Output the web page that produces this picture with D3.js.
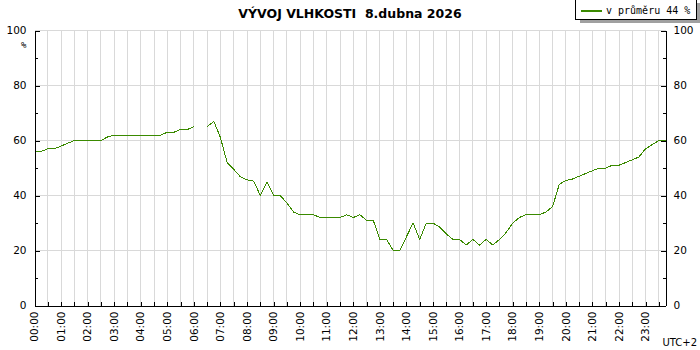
<!DOCTYPE html>
<html>
  <head>
    <meta charset="utf-8">
    <title>Vývoj vlhkosti</title>
    <script src="https://d3js.org/d3.v7.min.js"></script>
    <style>
      body { margin: 0; background: #fff; }
      svg text { font-family: "DejaVu Sans", sans-serif; fill: #000; }
    </style>
  </head>
  <body>
    <script>
      var width = 700;
      var height = 350;
      var margin = {top: 30.5, left: 34.5, right: 34.5, bottom: 44.5};

      var title = "VÝVOJ VLHKOSTI  8.dubna 2026";
      var legendLabel = "v průměru 44 %";
      var unitLabel = "%";
      var zoneLabel = "UTC+2";

      // one reading every 15 minutes from 00:00 to 23:45, null = missing
      var stepMinutes = 15;
      var humidity = [
        56, 56, 57, 57, 58, 59, 60, 60, 60, 60, 60, 61.3,
        62, 62, 62, 62, 62, 62, 62, 62, 63, 63, 64, 64,
        65, null, 65, 67, 61, 52, 49.5, 46.8, 45.7, 45.2, 40, 45,
        40, 40, 37.3, 34, 33, 33, 33, 32, 32, 32, 32, 33,
        32, 33, 31, 31, 24, 24, 20, 20, 25, 30, 24, 30,
        30, 28.5, 26, 24, 24, 22, 24, 22, 24, 22, 24, 26.5,
        30, 32, 33, 33, 33, 34, 36, 44, 45.5, 46, 47, 48,
        49, 50, 50, 51, 51, 52, 53, 54, 57, 58.5, 60, 60
      ];

      var hourLabels = ["00:00","01:00","02:00","03:00","04:00","05:00","06:00","07:00",
        "08:00","09:00","10:00","11:00","12:00","13:00","14:00","15:00",
        "16:00","17:00","18:00","19:00","20:00","21:00","22:00","23:00"];
      var yTicks = [0, 20, 40, 60, 80, 100];
      var yMinorTicks = [10, 30, 50, 70, 90];

      var data = humidity.map(function(v, i) { return {t: i * stepMinutes, v: v}; });
      var lastMinute = (humidity.length - 1) * stepMinutes;

      var svg = d3.select("body")
        .append("svg")
        .attr("width", width)
        .attr("height", height);

      var xScale = d3.scaleLinear()
        .domain([0, lastMinute])
        .range([margin.left, width - margin.right]);

      var yScale = d3.scaleLinear()
        .domain([0, 100])
        .range([height - margin.bottom, margin.top]);

      var halfHours = d3.range(30, lastMinute + 1, 30);
      var px = function(v) { return Math.round(v - 0.5) + 0.5; };

      // grid
      var grid = svg.append("g")
        .attr("stroke", "#d9d9d9")
        .attr("stroke-width", 1)
        .attr("shape-rendering", "crispEdges");
      grid.selectAll("line.v")
        .data(halfHours)
        .enter()
        .append("line")
          .attr("x1", function(d) { return px(xScale(d)); })
          .attr("x2", function(d) { return px(xScale(d)); })
          .attr("y1", yScale(100))
          .attr("y2", yScale(0));
      grid.selectAll("line.h")
        .data(yTicks.slice(1))
        .enter()
        .append("line")
          .attr("x1", xScale(0))
          .attr("x2", xScale(lastMinute))
          .attr("y1", function(d) { return yScale(d); })
          .attr("y2", function(d) { return yScale(d); });

      // humidity line
      var line = d3.line()
        .defined(function(d) { return d.v !== null; })
        .x(function(d) { return xScale(d.t); })
        .y(function(d) { return yScale(d.v); });

      svg.append("path")
        .datum(data)
        .attr("d", line)
        .attr("fill", "none")
        .attr("stroke", "#3a8a00")
        .attr("stroke-width", 1)
        .attr("shape-rendering", "crispEdges");

      // axes
      var yAllTicks = yTicks.concat(yMinorTicks);
      var isMajor = function(d) { return yTicks.indexOf(d) >= 0; };

      svg.append("g")
        .attr("transform", `translate(${xScale(0)},0)`)
        .call(d3.axisRight(yScale).tickValues(yAllTicks).tickFormat("")
          .tickSizeOuter(0))
        .call(function(g) {
          g.select(".domain").attr("stroke", "#000").attr("shape-rendering", "crispEdges");
          g.selectAll(".tick line")
            .attr("x2", function(d) { return isMajor(d) ? 5 : 3; })
            .attr("shape-rendering", "crispEdges");
        });

      svg.append("g")
        .attr("transform", `translate(${xScale(lastMinute)},0)`)
        .call(d3.axisLeft(yScale).tickValues(yAllTicks).tickFormat("")
          .tickSizeOuter(0))
        .call(function(g) {
          g.select(".domain").attr("stroke", "#000").attr("shape-rendering", "crispEdges");
          g.selectAll(".tick line")
            .attr("x2", function(d) { return isMajor(d) ? -5 : -3; })
            .attr("shape-rendering", "crispEdges");
        });

      svg.append("g")
        .attr("transform", `translate(0,${yScale(0)})`)
        .call(d3.axisTop(xScale).tickValues(halfHours).tickFormat("")
          .tickSize(4).tickSizeOuter(0))
        .call(function(g) {
          g.select(".domain").attr("stroke", "#000").attr("shape-rendering", "crispEdges");
          g.selectAll(".tick line").attr("shape-rendering", "crispEdges");
        });

      // y labels both sides
      svg.selectAll("text.yl")
        .data(yTicks)
        .enter()
        .append("text")
          .attr("x", xScale(0) - 8)
          .attr("y", function(d) { return yScale(d); })
          .attr("dy", "0.35em")
          .attr("text-anchor", "end")
          .style("font-size", "10.5px")
          .text(function(d) { return d; });

      svg.selectAll("text.yr")
        .data(yTicks)
        .enter()
        .append("text")
          .attr("x", xScale(lastMinute) + 8)
          .attr("y", function(d) { return yScale(d); })
          .attr("dy", "0.35em")
          .style("font-size", "10.5px")
          .text(function(d) { return d; });

      svg.append("text")
        .attr("x", xScale(0) - 8)
        .attr("y", yScale(100) + 14)
        .attr("dy", "0.35em")
        .attr("text-anchor", "end")
        .style("font-family", "'DejaVu Sans Mono', monospace")
        .style("font-size", "9px")
        .text(unitLabel);

      // x labels
      svg.selectAll("text.xl")
        .data(hourLabels)
        .enter()
        .append("text")
          .attr("transform", function(d, i) {
            return `translate(${xScale(i * 60)},${yScale(0) + 6}) rotate(-90)`;
          })
          .attr("dy", "0.35em")
          .attr("text-anchor", "end")
          .style("font-size", "10.5px")
          .text(function(d) { return d; });

      svg.append("text")
        .attr("x", 697)
        .attr("y", 346)
        .attr("text-anchor", "end")
        .style("font-size", "10px")
        .text(zoneLabel);

      // title
      svg.append("text")
        .attr("x", 350)
        .attr("y", 18)
        .attr("text-anchor", "middle")
        .style("font-size", "12.5px")
        .style("font-weight", "bold")
        .style("white-space", "pre")
        .text(title);

      // legend
      var legend = svg.append("g").attr("shape-rendering", "crispEdges");
      legend.append("rect")
        .attr("x", 579.5).attr("y", 2.5)
        .attr("width", 121).attr("height", 20)
        .attr("fill", "#a0a0a0");
      legend.append("rect")
        .attr("x", 575.5).attr("y", -0.5)
        .attr("width", 121).attr("height", 20)
        .attr("fill", "#fff")
        .attr("stroke", "#000");
      legend.append("line")
        .attr("x1", 581).attr("x2", 602)
        .attr("y1", 10.5).attr("y2", 10.5)
        .attr("stroke", "#3a8a00")
        .attr("stroke-width", 2);
      legend.append("text")
        .attr("x", 606)
        .attr("y", 14)
        .style("font-family", "'DejaVu Sans Mono', monospace")
        .style("font-size", "10px")
        .text(legendLabel);
    </script>
  </body>
</html>
